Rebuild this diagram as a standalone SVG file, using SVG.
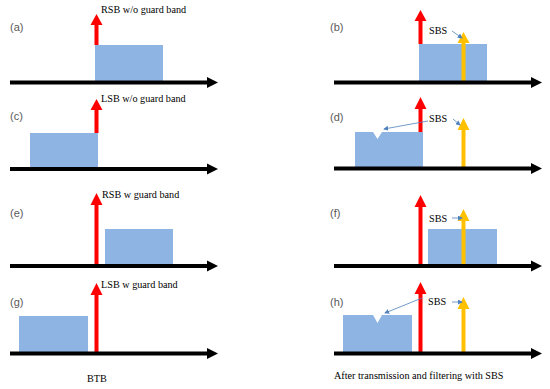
<svg xmlns="http://www.w3.org/2000/svg" width="550" height="389" viewBox="0 0 550 389">
<style>
.lbl{font-family:"Liberation Sans",Arial,sans-serif;font-size:11px;fill:#595959}
.txt{font-family:"Liberation Serif","Times New Roman",serif;font-size:10.2px;fill:#000}
.band{fill:#8EB4E3}
.red{fill:#FF0000}
.yel{fill:#FFC000}
.axis{stroke:#000;stroke-width:4}
.ptr{stroke:#4F81BD;stroke-width:0.8;fill:none;marker-end:url(#m)}
</style>
<defs>
<marker id="m" viewBox="0 0 6 6" refX="5" refY="3" markerWidth="5" markerHeight="5" orient="auto" markerUnits="userSpaceOnUse">
<path d="M0,0 L6,3 L0,6 z" fill="#4F81BD"/>
</marker>
<g id="ax"><line class="axis" x1="0" y1="0" x2="198" y2="0"/><polygon points="197,-5.5 208,0 197,5.5" fill="#000"/></g>
</defs>
<rect width="550" height="389" fill="#fff"/>

<g id="panel-a">
<text class="lbl" x="10" y="31">(a)</text>
<rect class="band" x="95" y="45" width="68" height="36"/>
<path class="red" d="M94.5,45 V25 H90.5 L96.5,14 L102.5,25 H98.5 V45 z"/>
<text class="txt" x="101" y="12.5">RSB w/o guard band</text>
</g>
<g id="panel-c">
<text class="lbl" x="10" y="120">(c)</text>
<rect class="band" x="30" y="133" width="68" height="35"/>
<path class="red" d="M94.5,133 V110 H90.5 L96.5,99 L102.5,110 H98.5 V133 z"/>
<text class="txt" x="101" y="101.5">LSB w/o guard band</text>
</g>
<g id="panel-e">
<text class="lbl" x="10" y="217">(e)</text>
<rect class="band" x="105" y="229" width="68" height="36"/>
<path class="red" d="M94.5,265 V205 H90.5 L96.5,193 L102.5,205 H98.5 V265 z"/>
<text class="txt" x="102" y="198">RSB w guard band</text>
</g>
<g id="panel-g">
<text class="lbl" x="10" y="306">(g)</text>
<rect class="band" x="19" y="316" width="69" height="36"/>
<path class="red" d="M94.5,352 V295 H90.5 L96.5,283 L102.5,295 H98.5 V352 z"/>
<text class="txt" x="101" y="288">LSB w guard band</text>
</g>

<g id="panel-b">
<text class="lbl" x="330" y="31">(b)</text>
<rect class="band" x="419" y="44" width="68" height="37"/>
<path class="red" d="M418.5,44 V21 H414.5 L420.5,10 L426.5,21 H422.5 V44 z"/>
<path class="yel" d="M461.5,81 V43 H457.5 L463.5,32 L469.5,43 H465.5 V81 z"/>
<text class="txt" x="429" y="34">SBS</text>
</g>
<g id="panel-d">
<text class="lbl" x="330" y="121">(d)</text>
<path class="band" d="M355,132 H373 L377.5,139 L382,132 H423 V168 H355 z"/>
<path class="red" d="M418.5,132 V109 H414.5 L420.5,97 L426.5,109 H422.5 V132 z"/>
<path class="yel" d="M461.5,167 V130 H457.5 L463.5,118 L469.5,130 H465.5 V167 z"/>
<text class="txt" x="429" y="122">SBS</text>
</g>
<g id="panel-f">
<text class="lbl" x="330" y="217">(f)</text>
<rect class="band" x="428" y="229" width="69" height="36"/>
<path class="red" d="M418.5,265 V207 H414.5 L420.5,195 L426.5,207 H422.5 V265 z"/>
<path class="yel" d="M461.5,265 V221 H457.5 L463.5,209 L469.5,221 H465.5 V265 z"/>
<text class="txt" x="429" y="222">SBS</text>
</g>
<g id="panel-h">
<text class="lbl" x="330" y="306">(h)</text>
<path class="band" d="M343,315 H373 L377.5,323 L382,315 H412 V352 H343 z"/>
<path class="red" d="M418.5,352 V294 H414.5 L420.5,282 L426.5,294 H422.5 V352 z"/>
<path class="yel" d="M461.5,352 V309 H457.5 L463.5,297 L469.5,309 H465.5 V352 z"/>
<text class="txt" x="428" y="305">SBS</text>
</g>

<g id="connectors">
<use href="#ax" x="10" y="82.5"/>
<use href="#ax" x="10" y="169"/>
<use href="#ax" x="10" y="266"/>
<use href="#ax" x="10" y="353.5"/>
<use href="#ax" x="334" y="82.5"/>
<use href="#ax" x="334" y="168.5"/>
<use href="#ax" x="334" y="266"/>
<use href="#ax" x="334" y="353.5"/>
<line class="ptr" x1="452" y1="31" x2="462" y2="38"/>
<line class="ptr" x1="428" y1="121" x2="384" y2="129"/>
<line class="ptr" x1="453" y1="119" x2="460" y2="125"/>
<line class="ptr" x1="452" y1="218" x2="462" y2="218"/>
<line class="ptr" x1="422" y1="298" x2="385" y2="313"/>
<line class="ptr" x1="452" y1="302" x2="462" y2="302"/>
</g>

<text class="txt" x="87" y="382">BTB</text>
<text class="txt" x="334" y="379">After transmission and filtering with SBS</text>
</svg>
